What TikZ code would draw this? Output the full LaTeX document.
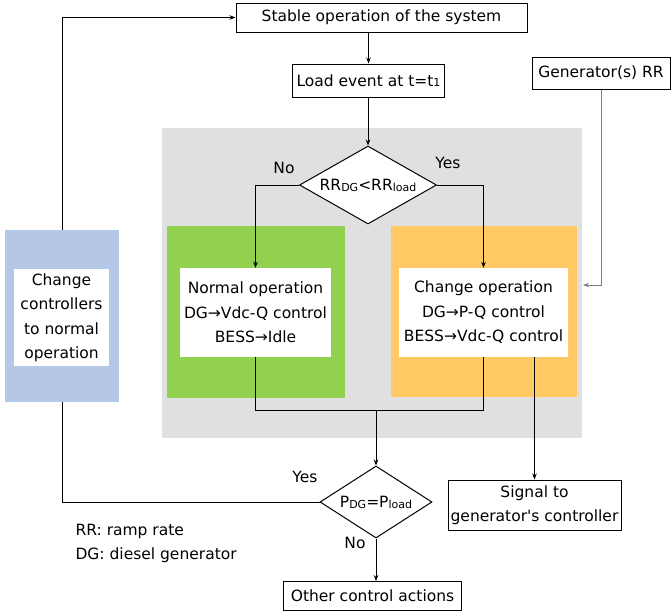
\documentclass[tikz,border=0pt]{standalone}
\usepackage{fontspec}
\setmainfont{DejaVu Sans}
\usetikzlibrary{shapes.geometric,arrows.meta}
\definecolor{panelgray}{HTML}{E0E0E0}
\definecolor{normgreen}{HTML}{92D050}
\definecolor{chgorange}{HTML}{FFCA63}
\definecolor{ctrlblue}{HTML}{B4C7E7}
\definecolor{feedgray}{HTML}{808080}
\newcommand{\lowsub}[1]{\raisebox{-1pt}{\fontsize{11}{12}\selectfont #1}}
\tikzset{
  txt/.style={font=\fontsize{15.5}{24.5}\selectfont},
  box/.style={txt, draw, line width=1pt, fill=white, inner sep=0pt, align=center},
  inbox/.style={txt, fill=white, inner sep=0pt, align=center},
  zone/.style={inner sep=0pt, anchor=north west},
  decide/.style={txt, diamond, draw, line width=1pt, fill=white, inner sep=0pt},
  link/.style={line width=0.8pt},
  arr/.style={link, -{Stealth[length=6pt,width=4.5pt]}},
  lbl/.style={txt}
}
\begin{document}
\begin{tikzpicture}[x=1pt,y=-1pt]
\useasboundingbox (0,0) rectangle (671,613);

% shaded decision panel
\node[zone, fill=panelgray, minimum width=420pt, minimum height=310pt] (panel) at (162,128) {};
\node[zone, fill=normgreen, minimum width=178pt, minimum height=172pt] (greenzone) at (167,226) {};
\node[zone, fill=chgorange, minimum width=186pt, minimum height=171pt] (orangezone) at (391,226) {};

% process boxes
\node[box, minimum width=291pt, minimum height=29pt] (stable) at (381.5,17.5) {Stable operation of the system};
\node[box, minimum width=152pt, minimum height=33pt] (load) at (368.5,80.5) {Load event at t=t\raisebox{-0.5pt}{\fontsize{11}{12}\selectfont 1}};
\node[box, minimum width=138pt, minimum height=32pt] (genrr) at (601,73) {Generator(s) RR};
\node[decide, aspect=1.76, minimum width=137pt, minimum height=78pt] (rrtest) at (368,185) {RR\lowsub{DG}<RR\lowsub{load}};
\node[inbox, minimum width=151pt, minimum height=89pt] (normal) at (255.5,312.5) {Normal operation\\DG→Vdc-Q control\\BESS→Idle};
\node[inbox, minimum width=169pt, minimum height=89pt] (change) at (483.5,312.5) {Change operation\\DG→P-Q control\\BESS→Vdc-Q control};
\node[decide, aspect=1.56, minimum width=112pt, minimum height=72pt] (ptest) at (376,502) {P\lowsub{DG}=P\lowsub{load}};
\node[box, minimum width=173pt, minimum height=50pt, font=\fontsize{15.5}{24}\selectfont] (signal) at (534.5,505) {Signal to\\generator\textquotesingle s controller};
\node[box, minimum width=178pt, minimum height=29pt] (other) at (372.5,596) {Other control actions};

% branch labels
\node[lbl] (noA) at (284,168) {No};
\node[lbl] (yesA) at (448,163) {Yes};
\node[lbl] (yesB) at (305,477) {Yes};
\node[lbl] (noB) at (355,543) {No};

% legend
\node[lbl, anchor=west] (leg1) at (72,531) {RR: ramp rate};
\node[lbl, anchor=west] (leg2) at (72,555) {DG: diesel generator};

% connectors
\coordinate (merge) at (376,410);
\coordinate (rrin) at (583,285);
\coordinate (loopc) at (62,17.5);
\draw[arr] (stable.south -| load.north) -- (load.north);
\draw[arr] (load.south -| rrtest.north) -- (rrtest.north);
\draw[arr] (rrtest.west) -| (normal.north);
\draw[arr] (rrtest.east) -| (change.north);
\draw[arr, feedgray] (genrr.south) |- (rrin);
\draw[link] (normal.south) -- (normal.south |- merge) -- (change.south |- merge) -- (change.south);
\draw[arr] (merge) -- (ptest.north);
\draw[arr] (signal.north |- change.south) -- (signal.north);
\draw[arr] (ptest.south) -- (ptest.south |- other.north);
\draw[arr] (ptest.west) -| (loopc) -- (stable.west);

% return-to-normal block over the feedback line
\node[zone, fill=ctrlblue, minimum width=114pt, minimum height=172pt] (bluezone) at (5,230) {};
\node[inbox, minimum width=95pt, minimum height=97pt] (revert) at (61.5,317.5) {Change\\controllers\\to normal\\operation};
\end{tikzpicture}
\end{document}
